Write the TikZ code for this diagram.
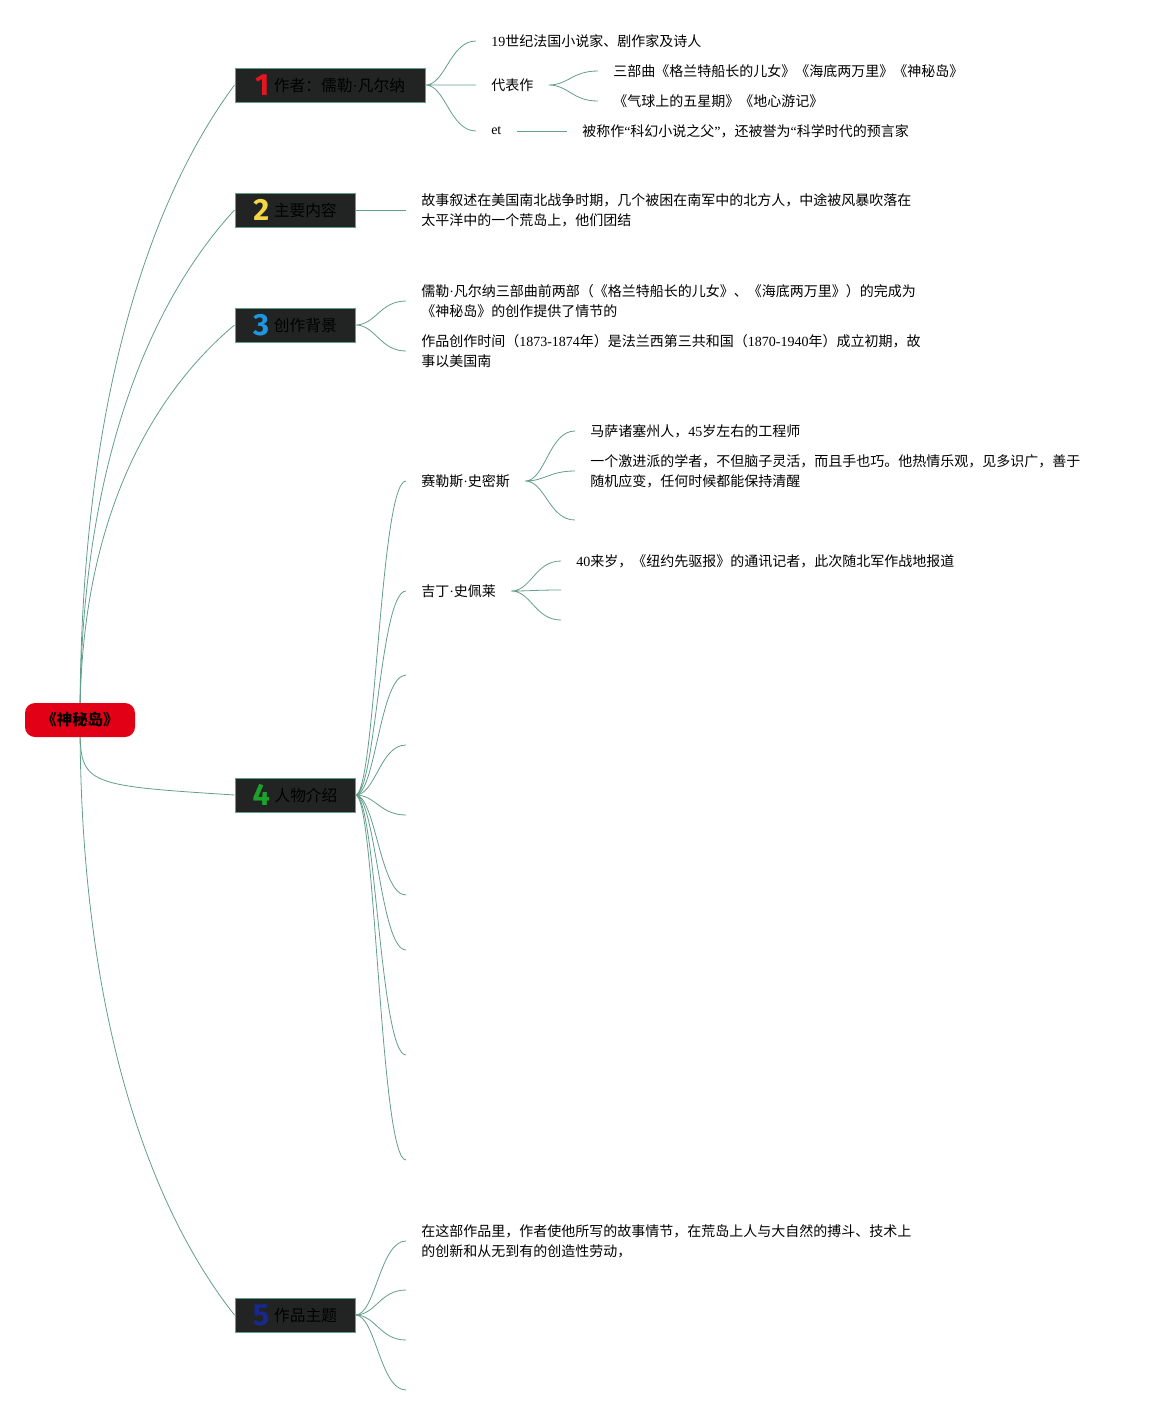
\documentclass[tikz,border=0pt]{standalone}
\usepackage{fontspec}
\setmainfont{Noto Sans CJK SC}
\newfontfamily\latfont{Liberation Serif}
\newfontfamily\numfont{Fira Sans}
\usetikzlibrary{backgrounds}
\definecolor{linkgreen}{RGB}{98,158,136}
\definecolor{boxdark}{RGB}{34,36,35}
\definecolor{rootred}{RGB}{226,0,22}
\definecolor{numred}{RGB}{228,22,32}
\definecolor{numyellow}{RGB}{245,215,70}
\definecolor{numblue}{RGB}{30,150,225}
\definecolor{numgreen}{RGB}{30,160,45}
\definecolor{numnavy}{RGB}{25,40,140}
\newcommand{\lat}[1]{{\latfont #1}}
\newcommand{\dotsep}{\lat{·}}
\newcommand{\bignum}[2]{\raisebox{-3pt}{\numfont\bfseries\fontsize{23}{23}\selectfont\color{#1}#2}\hspace{3.5pt}}

\begin{document}
\begin{tikzpicture}[x=0.75pt, y=-0.75pt,
  rootbox/.style={fill=rootred, rounded corners=7.5pt, minimum width=82.5pt,
    minimum height=25.5pt, inner sep=0pt, font=\fontsize{11.6}{14}\selectfont\bfseries},
  topic/.style={fill=boxdark, draw=linkgreen, line width=0.75pt, minimum height=25.5pt,
    minimum width=90pt, inner sep=0pt, font=\fontsize{11.8}{14}\selectfont},
  leaf/.style={anchor=west, inner xsep=11.25pt, inner ysep=1pt, align=left,
    font=\fontsize{10.5}{15}\selectfont},
  conn/.style={draw=linkgreen, line width=0.6pt},
  twig/.style={to path={.. controls +(20,0) and +(-26,0) .. (\tikztotarget)}}]
\useasboundingbox (0,0) rectangle (1150,1415);
% root
\node[rootbox] (root) at (80,720) {《神秘岛》};
% main topics
\node[topic, minimum width=142.5pt] (b1) at (330,85) {\bignum{numred}{1}作者：儒勒\dotsep 凡尔纳};
\node[topic] (b2) at (295,210) {\bignum{numyellow}{2}主要内容};
\node[topic] (b3) at (295,325) {\bignum{numblue}{3}创作背景};
\node[topic] (b4) at (295,795) {\bignum{numgreen}{4}人物介绍};
\node[topic] (b5) at (295,1315) {\bignum{numnavy}{5}作品主题};
% author
\node[leaf] (n11) at (476,41) {\lat{19}世纪法国小说家、剧作家及诗人};
\node[leaf] (n12) at (476,85) {代表作};
\node[leaf] (n121) at (598,71) {三部曲《格兰特船长的儿女》《海底两万里》《神秘岛》};
\node[leaf] (n122) at (598,101) {《气球上的五星期》《地心游记》};
\node[leaf] (n13) at (476,131) {\lat{et}};
\node[leaf] (n131) at (567,131) {被称作\lat{“}科幻小说之父\lat{”}，还被誉为\lat{“}科学时代的预言家};
% content
\node[leaf] (n21) at (406,210) {故事叙述在美国南北战争时期，几个被困在南军中的北方人，中途被风暴吹落在\\太平洋中的一个荒岛上，他们团结};
% background
\node[leaf] (n31) at (406,301) {儒勒\dotsep 凡尔纳三部曲前两部（《格兰特船长的儿女》、《海底两万里》）的完成为\\《神秘岛》的创作提供了情节的};
\node[leaf] (n32) at (406,351) {作品创作时间（\lat{1873-1874}年）是法兰西第三共和国（\lat{1870-1940}年）成立初期，故\\事以美国南};
% characters
\node[leaf] (n41) at (406,481) {赛勒斯\dotsep 史密斯};
\node[leaf] (n411) at (575,431) {马萨诸塞州人，\lat{45}岁左右的工程师};
\node[leaf] (n412) at (575,471) {一个激进派的学者，不但脑子灵活，而且手也巧。他热情乐观，见多识广，善于\\随机应变，任何时候都能保持清醒};
\coordinate (c413) at (575,520);
\node[leaf] (n42) at (406,591) {吉丁\dotsep 史佩莱};
\node[leaf] (n421) at (561,561) {\lat{40}来岁，《纽约先驱报》的通讯记者，此次随北军作战地报道};
\coordinate (c422) at (561,590);
\coordinate (c423) at (561,620);
\foreach \i/\y in {3/675,4/745,5/815,6/895,7/950,8/1055,9/1160}
  \coordinate (c4\i) at (406,\y);
% theme
\node[leaf] (n51) at (406,1241) {在这部作品里，作者使他所写的故事情节，在荒岛上人与大自然的搏斗、技术上\\的创新和从无到有的创造性劳动，};
\coordinate (c52) at (406,1290);
\coordinate (c53) at (406,1340);
\coordinate (c54) at (406,1390);
% connectors
\begin{scope}[on background layer]
\draw[conn] (root.center) .. controls (80,402) and (150,199) .. (b1.west);
\draw[conn] (root.center) .. controls (80,465) and (150,302) .. (b2.west);
\draw[conn] (root.center) .. controls (80,522) and (150,396) .. (b3.west);
\draw[conn] (root.center) .. controls (80,785) .. (b4.west);
\draw[conn] (root.center) .. controls (80,1017) and (150,1208) .. (b5.west);
\draw[conn] (b1.east) to[twig] (n11.west) (b1.east) to[twig] (n12.west)
  (b1.east) to[twig] (n13.west);
\draw[conn] (n12.east) to[twig] (n121.west) (n12.east) to[twig] (n122.west);
\draw[conn] (n13.east) -- (n131.west);
\draw[conn] (b2.east) -- (n21.west);
\draw[conn] (b3.east) to[twig] (n31.west) (b3.east) to[twig] (n32.west);
\draw[conn] (b4.east) to[twig] (n41.west) (b4.east) to[twig] (n42.west);
\foreach \i in {3,...,9}
  \draw[conn] (b4.east) to[twig] (c4\i);
\draw[conn] (n41.east) to[twig] (n411.west) (n41.east) to[twig] (n412.west)
  (n41.east) to[twig] (c413);
\draw[conn] (n42.east) to[twig] (n421.west) (n42.east) to[twig] (c422)
  (n42.east) to[twig] (c423);
\draw[conn] (b5.east) to[twig] (n51.west);
\foreach \i in {2,3,4}
  \draw[conn] (b5.east) to[twig] (c5\i);
\end{scope}
\end{tikzpicture}
\end{document}
